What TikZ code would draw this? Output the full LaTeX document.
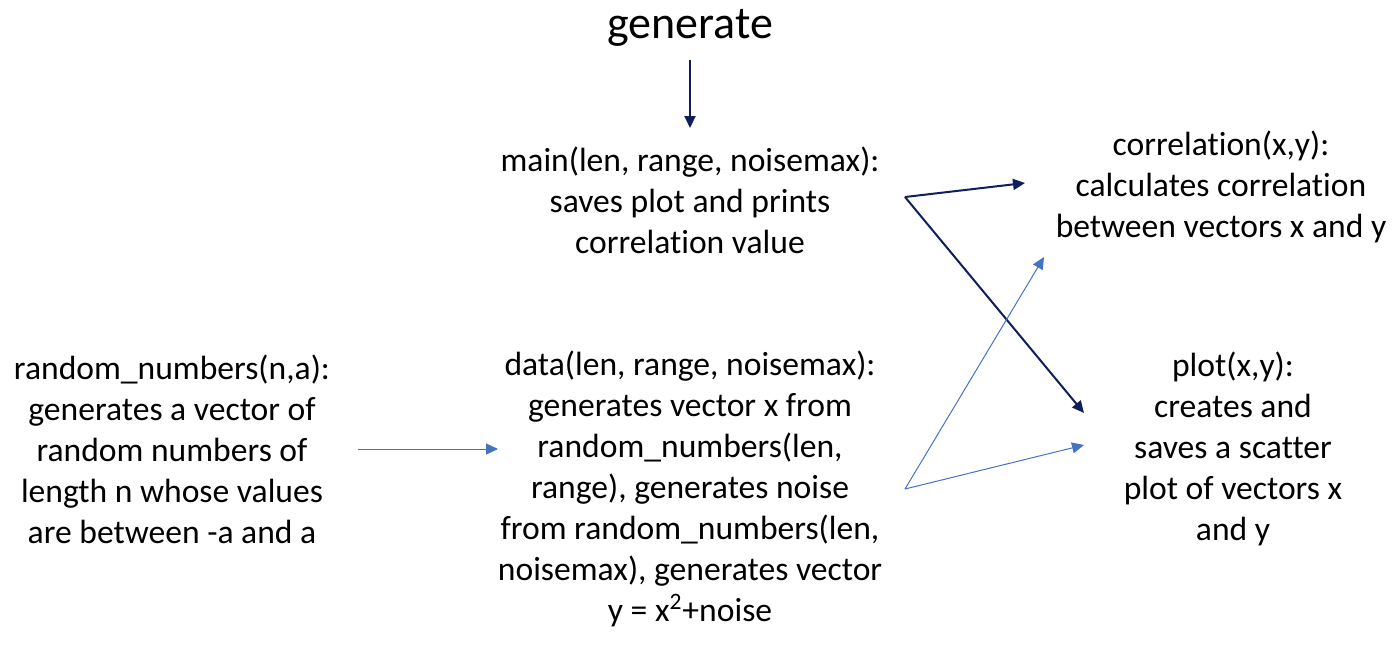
\documentclass[tikz,border=0pt]{standalone}
\usepackage{fontspec}
\setmainfont{Carlito}[Ligatures=NoCommon]
\usetikzlibrary{arrows.meta}
\definecolor{navy}{HTML}{0E1F5B}
\definecolor{lblue}{HTML}{4472C4}
\tikzset{
  txt/.style={align=center, inner sep=0pt, font=\fontsize{16.8}{20.5}\selectfont},
  dark/.style={draw=navy, line width=1pt, -{Triangle[length=6pt,width=5.5pt]}},
  light/.style={draw=lblue, line width=0.5pt, -{Triangle[length=6pt,width=5.5pt]}}
}
\begin{document}
\begin{tikzpicture}[x=0.5pt,y=-0.5pt]
\useasboundingbox (0,0) rectangle (1396,648);
\node[txt, font=\fontsize{23}{26}\selectfont] (gen) at (690,28) {generate};
\node[txt] (main) at (690,200) {main(len, range, noisemax):\\saves plot and prints\\correlation value};
\node[txt] (corr) at (1221,187) {correlation(x,y):\\calculates correlation\\between vectors x and y};
\node[txt] (rand) at (172,449) {random\_numbers(n,a):\\generates a vector of\\random numbers of\\length n whose values\\are between -a and a};
\node[txt] (data) at (690,489) {data(len, range, noisemax):\\generates vector x from\\random\_numbers(len,\\range), generates noise\\from random\_numbers(len,\\noisemax), generates vector\\y = x\textsuperscript{2}+noise};
\node[txt] (plot) at (1233,449) {plot(x,y):\\creates and\\saves a scatter\\plot of vectors x\\and y};
\coordinate (g1) at (690,60);
\coordinate (g2) at (690,128);
\coordinate (m0) at (905,197);
\coordinate (c1) at (1025,183);
\coordinate (p1) at (1084,413);
\coordinate (r0) at (358,449);
\coordinate (d1) at (498,449);
\coordinate (d0) at (905,489);
\coordinate (c2) at (1044,257);
\coordinate (p2) at (1084,445);
\draw[dark] (g1) -- (g2);
\draw[dark] (m0) -- (c1);
\draw[dark] (m0) -- (p1);
\draw[light] (r0) -- (d1);
\draw[light] (d0) -- (c2);
\draw[light] (d0) -- (p2);
\end{tikzpicture}
\end{document}
